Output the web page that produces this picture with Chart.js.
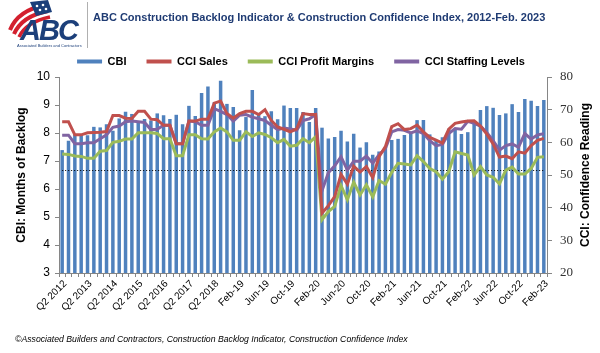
<!DOCTYPE html>
<html>
<head>
<meta charset="utf-8">
<title>ABC Construction Backlog Indicator & Construction Confidence Index</title>
<script src="https://cdn.jsdelivr.net/npm/chart.js@4.4.1/dist/chart.umd.min.js"></script>
<style>
  html, body { margin: 0; padding: 0; background: #fff; }
  #wrap { position: relative; width: 600px; height: 353px; overflow: hidden; font-family: 'Liberation Sans', Arial, sans-serif; }
  #chart { position: absolute; left: 0; top: 0; }
  #logo { position: absolute; left: 4px; top: 0; }
  #sep { position: absolute; left: 87px; top: 2px; width: 1px; height: 46px; background: #b0b0b0; }
  #title { position: absolute; left: 93px; top: 11px; font-size: 11px; font-weight: bold; color: #1f3b73; white-space: nowrap; }
  #source { position: absolute; left: 15px; top: 334px; font-size: 8.7px; font-style: italic; color: #000; white-space: nowrap; }
</style>
</head>
<body>
<div id="wrap">
  <canvas id="chart" width="600" height="353"></canvas>
  <svg id="logo" width="80" height="48" viewBox="0 0 80 48">
    <path d="M6 30 Q 14 10 42 5" stroke="#d3202e" stroke-width="4" fill="none"/>
    <path d="M10 34 Q 18 16 44 11" stroke="#d3202e" stroke-width="4" fill="none"/>
    <path d="M15 37 Q 22 22 46 17" stroke="#d3202e" stroke-width="3.5" fill="none"/>
    <path d="M26 2 L44 0 L48 12 L32 16 Z" fill="#1c3f7a"/>
    <circle cx="33" cy="6" r="1.3" fill="#fff"/>
    <circle cx="39" cy="5" r="1.3" fill="#fff"/>
    <circle cx="36" cy="10" r="1.3" fill="#fff"/>
    <circle cx="42" cy="9" r="1.3" fill="#fff"/>
    <text x="16" y="40" font-family="Liberation Sans, Arial" font-weight="bold" font-style="italic" font-size="29" fill="#1c3f7a" letter-spacing="-2">ABC</text>
    <text x="13" y="46.5" font-family="Liberation Sans, Arial" font-size="4" fill="#1c3f7a">Associated Builders and Contractors</text>
  </svg>
  <div id="sep"></div>
  <div id="title">ABC Construction Backlog Indicator &amp; Construction Confidence Index, 2012-Feb. 2023</div>
  <div id="source">©Associated Builders and Contractors, Construction Backlog Indicator, Construction Confidence Index</div>
</div>
<script>
  'use strict';

  // --- Categories: quarterly through 2018, monthly after ---
  const categories = [
    'Q2 2012', 'Q3 2012', 'Q4 2012', 'Q1 2013', 'Q2 2013', 'Q3 2013', 'Q4 2013',
    'Q1 2014', 'Q2 2014', 'Q3 2014', 'Q4 2014', 'Q1 2015', 'Q2 2015', 'Q3 2015', 'Q4 2015',
    'Q1 2016', 'Q2 2016', 'Q3 2016', 'Q4 2016', 'Q1 2017', 'Q2 2017', 'Q3 2017', 'Q4 2017',
    'Q1 2018', 'Q2 2018', 'Q3 2018', 'Q4 2018',
    'Jan-19', 'Feb-19', 'Mar-19', 'Apr-19', 'May-19', 'Jun-19', 'Jul-19', 'Aug-19', 'Sep-19', 'Oct-19', 'Nov-19', 'Dec-19',
    'Jan-20', 'Feb-20', 'Mar-20', 'Apr-20', 'May-20', 'Jun-20', 'Jul-20', 'Aug-20', 'Sep-20', 'Oct-20', 'Nov-20', 'Dec-20',
    'Jan-21', 'Feb-21', 'Mar-21', 'Apr-21', 'May-21', 'Jun-21', 'Jul-21', 'Aug-21', 'Sep-21', 'Oct-21', 'Nov-21', 'Dec-21',
    'Jan-22', 'Feb-22', 'Mar-22', 'Apr-22', 'May-22', 'Jun-22', 'Jul-22', 'Aug-22', 'Sep-22', 'Oct-22', 'Nov-22', 'Dec-22',
    'Jan-23', 'Feb-23'
  ];
  const tickEvery = 4;

  // CBI, months of backlog (left axis)
  const cbi = [
    7.39, 7.72, 7.95, 7.93, 7.92, 8.22, 8.20, 8.31, 8.08, 8.52,
    8.76, 8.68, 8.42, 8.50, 8.45, 8.70, 8.63, 8.50, 8.65, 8.31,
    8.97, 8.61, 9.43, 9.66, 9.10, 9.87, 9.04, 8.93, 8.10, 8.57,
    9.54, 8.66, 8.60, 8.78, 8.49, 8.98, 8.89, 8.89, 8.75, 8.39,
    8.89, 8.19, 7.80, 7.86, 8.08, 7.70, 7.97, 7.48, 7.67, 7.22,
    7.34, 7.50, 7.75, 7.79, 7.93, 8.01, 8.46, 8.46, 7.95, 7.75,
    7.85, 8.15, 8.13, 7.96, 8.03, 8.35, 8.82, 8.96, 8.90, 8.64,
    8.70, 9.03, 8.75, 9.21, 9.15, 8.96, 9.18
  ];

  // CCI readings (right axis)
  const cciSales = [
    66.3, 66.3, 62.3, 62.3, 62.9, 63.0, 63.1, 63.3, 68.2, 68.2,
    67.4, 67.3, 69.5, 69.5, 67.1, 66.9, 65.2, 65.2, 59.6, 59.6,
    66.5, 66.5, 67.1, 67.1, 72.0, 72.6, 68.8, 67.4, 68.8, 69.5,
    69.5, 68.5, 70.0, 66.7, 64.7, 64.0, 63.2, 64.1, 68.8, 68.5,
    68.5, 38.3, 40.6, 43.4, 50.2, 47.2, 52.7, 50.9, 52.6, 49.2,
    55.6, 58.7, 64.8, 65.7, 63.9, 64.2, 65.3, 63.2, 61.5, 60.7,
    59.8, 64.0, 65.8, 66.2, 66.5, 66.6, 65.0, 62.5, 59.5, 55.5,
    55.8, 55.0, 57.1, 56.7, 59.0, 60.6, 61.2
  ];
  const cciMargins = [
    56.4, 56.3, 55.8, 55.7, 55.1, 55.1, 57.3, 57.5, 60.0, 60.3,
    61.0, 61.0, 62.9, 62.9, 62.9, 62.7, 61.1, 61.1, 55.9, 55.9,
    62.3, 62.3, 61.1, 61.0, 63.2, 64.4, 63.2, 60.6, 60.6, 63.2,
    61.8, 62.9, 62.4, 61.4, 59.9, 60.9, 58.8, 59.1, 61.1, 59.9,
    61.7, 36.3, 38.8, 40.4, 46.8, 42.4, 47.8, 43.9, 47.0, 43.3,
    48.3, 47.2, 50.8, 53.6, 53.4, 53.1, 55.9, 54.1, 52.0, 51.0,
    48.7, 51.0, 57.1, 56.6, 56.1, 50.0, 52.6, 50.0, 49.3, 47.3,
    51.5, 52.4, 50.3, 50.3, 52.0, 55.4, 55.6
  ];
  const cciStaffing = [
    62.2, 62.2, 59.6, 59.6, 59.9, 59.9, 61.1, 62.3, 64.6, 65.0,
    66.3, 66.5, 66.3, 66.1, 63.9, 64.0, 65.2, 65.2, 59.6, 59.6,
    66.5, 66.3, 65.2, 65.2, 70.3, 69.5, 68.5, 66.5, 68.3, 68.5,
    67.7, 67.2, 66.7, 65.2, 63.9, 64.4, 64.1, 63.7, 66.7, 67.2,
    68.5, 45.2, 50.7, 52.8, 55.6, 51.5, 54.2, 54.2, 55.8, 53.6,
    56.2, 58.1, 63.2, 63.9, 63.7, 62.9, 63.5, 62.7, 60.5, 59.0,
    59.4, 62.7, 64.2, 64.0, 66.4, 65.8, 65.0, 63.0, 60.5, 57.6,
    59.0, 59.5, 58.5, 62.7, 61.0, 62.3, 62.6
  ];

  // dotted reference level on the CCI axis
  const refLevel = 51.6;

  const leftTicks = [3, 4, 5, 6, 7, 8, 9, 10];
  const rightTicks = [20, 30, 40, 50, 60, 70, 80];

  const SANS = "'Liberation Sans', Arial, sans-serif";
  const SERIF = "'Liberation Serif', 'Times New Roman', serif";
  Chart.defaults.font.family = SANS;

  // --- Dotted reference line, drawn right after the bars ---
  const refLinePlugin = {
    id: 'refLine',
    afterDatasetDraw: function (chart, args) {
      if (args.index !== 0) return;
      const x = chart.scales.x, y2 = chart.scales.y2, ctx = chart.ctx;
      const py = Math.round(y2.getPixelForValue(refLevel)) + 0.5;
      ctx.save();
      ctx.strokeStyle = '#000';
      ctx.lineWidth = 1;
      ctx.setLineDash([1, 2]);
      ctx.beginPath();
      ctx.moveTo(x.getPixelForValue(0), py);
      ctx.lineTo(x.getPixelForValue(categories.length - 1), py);
      ctx.stroke();
      ctx.restore();
    }
  };

  // --- Right axis title reading bottom-to-top ---
  const rightTitlePlugin = {
    id: 'rightTitle',
    afterDraw: function (chart) {
      const s = chart.scales.y2, ctx = chart.ctx;
      ctx.save();
      ctx.translate(s.right - 6, (s.top + s.bottom) / 2);
      ctx.rotate(-Math.PI / 2);
      ctx.font = 'bold 12px ' + SANS;
      ctx.fillStyle = '#000';
      ctx.textAlign = 'center';
      ctx.textBaseline = 'middle';
      ctx.fillText('CCI: Confidence Reading', 0, 0);
      ctx.restore();
    }
  };

  const lineStyle = function (color) {
    return {
      type: 'line',
      yAxisID: 'y2',
      borderColor: color,
      backgroundColor: color,
      borderWidth: 3,
      pointRadius: 0,
      tension: 0,
      fill: false,
      order: 1
    };
  };

  new Chart(document.getElementById('chart'), {
    type: 'bar',
    data: {
      labels: categories,
      datasets: [
        {
          label: 'CBI',
          data: cbi,
          yAxisID: 'y',
          backgroundColor: '#4F81BD',
          barPercentage: 0.55,
          categoryPercentage: 1.0,
          order: 3
        },
        Object.assign(lineStyle('#C0504D'), { label: 'CCI Sales', data: cciSales }),
        Object.assign(lineStyle('#9BBB59'), { label: 'CCI Profit Margins', data: cciMargins }),
        Object.assign(lineStyle('#8064A2'), { label: 'CCI Staffing Levels', data: cciStaffing })
      ]
    },
    options: {
      responsive: false,
      animation: false,
      layout: { padding: { top: 36, left: 10, right: 8, bottom: 36 } },
      plugins: {
        tooltip: { enabled: false },
        legend: {
          position: 'top',
          labels: {
            boxWidth: 25,
            boxHeight: 4,
            padding: 20,
            color: '#000',
            font: { size: 11, weight: 'bold' },
            sort: function (a, b) { return a.datasetIndex - b.datasetIndex; },
            generateLabels: function (chart) {
              return chart.data.datasets.map(function (ds, i) {
                return {
                  text: ds.label,
                  fillStyle: ds.backgroundColor,
                  strokeStyle: ds.backgroundColor,
                  lineWidth: 0,
                  hidden: false,
                  datasetIndex: i
                };
              });
            }
          }
        }
      },
      scales: {
        x: {
          offset: true,
          border: { color: '#868686' },
          grid: { drawOnChartArea: false, tickLength: 4, color: '#868686', offset: true },
          ticks: {
            autoSkip: false,
            maxRotation: 45,
            minRotation: 45,
            padding: 1,
            labelOffset: 3,
            color: '#000',
            font: { size: 10 },
            callback: function (val, i) {
              return i % tickEvery === 0 ? categories[i] : '';
            }
          },
          afterFit: function (scale) { scale.height = 44; }
        },
        y: {
          position: 'left',
          min: leftTicks[0],
          max: leftTicks[leftTicks.length - 1],
          border: { color: '#868686' },
          grid: { drawOnChartArea: false, tickLength: 4, color: '#868686' },
          ticks: { stepSize: 1, padding: 5, color: '#000', font: { size: 12 } },
          title: { display: true, text: 'CBI: Months of Backlog', color: '#000', font: { size: 12, weight: 'bold' } },
          afterFit: function (scale) { scale.width = 49; }
        },
        y2: {
          position: 'right',
          min: rightTicks[0],
          max: rightTicks[rightTicks.length - 1],
          border: { color: '#868686' },
          grid: { drawOnChartArea: false, tickLength: 5, color: '#868686' },
          ticks: { stepSize: 10, padding: 8, color: '#333', font: { family: SERIF, size: 13 } },
          afterFit: function (scale) { scale.width = 45; }
        }
      }
    },
    plugins: [refLinePlugin, rightTitlePlugin]
  });
</script>
</body>
</html>
